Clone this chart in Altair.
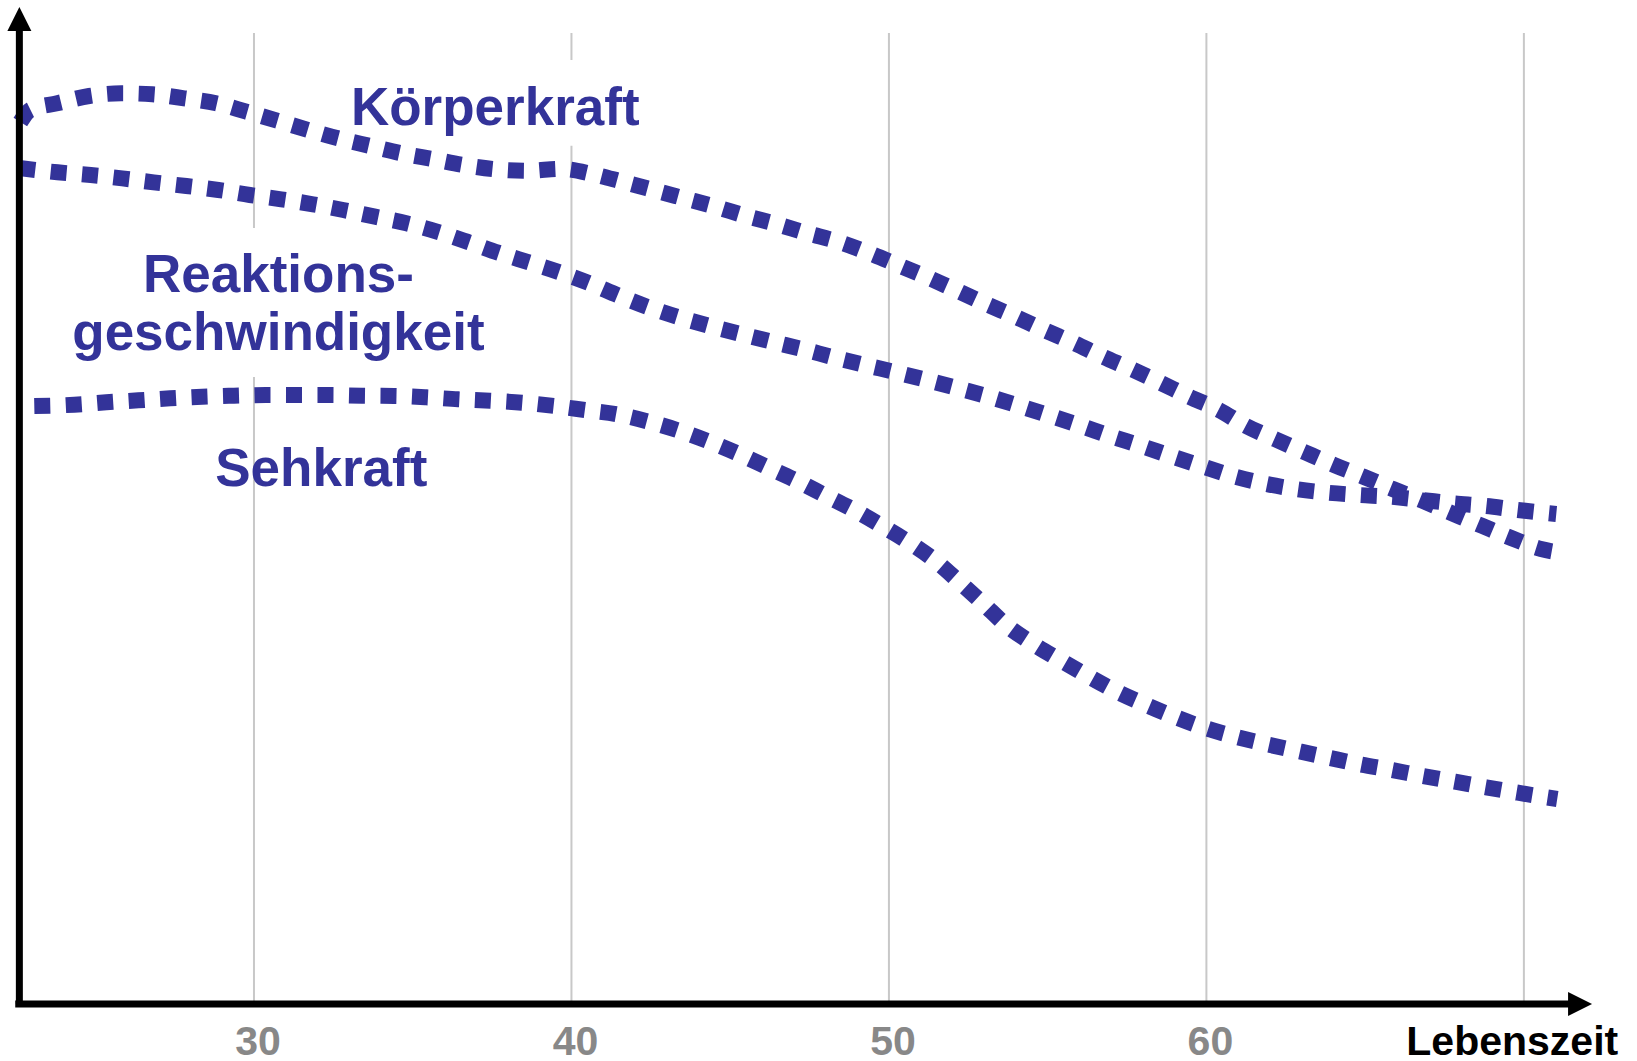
import altair as alt
import pandas as pd

# Age axis (years) and relative performance level (0 = axis, 100 = top)
koerper_age = [22.64, 22.95, 23.80, 24.81, 25.82, 26.80, 27.80, 28.81, 29.76, 30.73,
               31.71, 32.69, 33.66, 34.64, 35.65, 36.61, 37.63, 38.64, 39.65, 40.66,
               41.60, 42.58, 43.55, 44.53, 45.47, 46.48, 47.43, 48.40, 49.35, 50.29,
               51.21, 52.15, 53.06, 53.98, 54.89, 55.80, 56.72, 57.65, 58.55, 59.46,
               60.39, 61.25, 62.17, 63.10, 64.03, 64.95, 65.87, 66.80, 67.74, 68.69,
               69.62, 70.54, 71.21]
koerper_level = [88.29, 89.49, 90.16, 90.89, 91.16, 91.06, 90.66, 90.16, 89.32, 88.42,
                 87.49, 86.62, 85.89, 85.16, 84.56, 83.98, 83.55, 83.41, 83.60, 83.08,
                 82.31, 81.48, 80.65, 79.81, 78.91, 78.05, 77.15, 76.31, 75.21, 73.97,
                 72.74, 71.40, 70.07, 68.80, 67.47, 66.20, 64.83, 63.53, 62.19, 60.79,
                 59.46, 57.86, 56.53, 55.23, 53.95, 52.78, 51.55, 50.38, 49.12, 47.85,
                 46.62, 45.55, 45.15]

reaktion_age = [22.61, 23.81, 24.86, 25.85, 26.84, 27.87, 28.88, 29.87, 30.86, 31.86,
                32.81, 33.81, 34.80, 35.76, 36.71, 37.69, 38.69, 39.63, 40.57, 41.49,
                42.43, 43.39, 44.35, 45.33, 46.30, 47.29, 48.26, 49.25, 50.22, 51.19,
                52.18, 53.15, 54.12, 55.07, 56.03, 56.97, 57.95, 58.89, 59.85, 60.81,
                61.79, 62.80, 63.81, 64.81, 65.79, 66.80, 67.77, 68.80, 69.81, 71.02]
reaktion_level = [83.68, 83.25, 82.98, 82.65, 82.25, 81.88, 81.48, 80.98, 80.55, 80.05,
                  79.48, 78.81, 78.15, 77.31, 76.31, 75.21, 74.20, 73.24, 72.14, 70.90,
                  69.74, 68.74, 67.87, 67.07, 66.30, 65.54, 64.73, 63.96, 63.23, 62.46,
                  61.63, 60.79, 59.86, 58.89, 57.89, 56.86, 55.86, 54.85, 53.85, 52.88,
                  52.12, 51.55, 51.18, 50.95, 50.78, 50.45, 50.12, 49.85, 49.45, 49.05]

seh_age = [23.08, 24.34, 25.35, 26.36, 27.36, 28.37, 29.37, 30.37, 31.39, 32.37,
           33.40, 34.42, 35.43, 36.43, 37.44, 38.44, 39.45, 40.43, 41.44, 42.43,
           43.39, 44.34, 45.27, 46.18, 47.09, 47.99, 48.90, 49.77, 50.63, 51.46,
           52.21, 52.96, 53.69, 54.51, 55.39, 56.26, 57.14, 58.06, 58.99, 59.93,
           60.91, 61.90, 62.87, 63.86, 64.84, 65.84, 66.82, 67.83, 68.81, 69.81, 71.05]
seh_level = [59.86, 59.99, 60.23, 60.43, 60.63, 60.79, 60.89, 60.96, 60.96, 60.96,
             60.89, 60.86, 60.73, 60.53, 60.39, 60.19, 59.87, 59.46, 59.03, 58.29,
             57.39, 56.29, 55.06, 53.72, 52.38, 50.92, 49.45, 47.88, 46.22, 44.37,
             42.27, 40.11, 37.94, 36.11, 34.43, 32.85, 31.33, 30.00, 28.76, 27.66,
             26.76, 26.00, 25.33, 24.65, 23.99, 23.42, 22.82, 22.25, 21.69, 21.15, 20.52]

grid_ages = [30, 40, 50, 60, 70]
tick_ages = [30, 40, 50, 60]
tick_labels = ["30", "40", "50", "60"]
axis_title = "Lebenszeit"

series_labels = ["Körperkraft", "Reaktions-", "geschwindigkeit", "Sehkraft"]
label_age = [37.60, 30.77, 30.77, 32.12]
label_level = [87.99, 71.27, 65.47, 51.85]

BLUE = "#333399"
SANS = "Liberation Sans, Arial, Helvetica, sans-serif"
X_DOMAIN = [22, 73.5]
Y_DOMAIN = [0, 100]

xs = alt.Scale(domain=X_DOMAIN, nice=False, zero=False)
ys = alt.Scale(domain=Y_DOMAIN, nice=False, zero=False)

lines_df = pd.concat([
    pd.DataFrame({"age": koerper_age, "level": koerper_level, "series": "Körperkraft"}),
    pd.DataFrame({"age": reaktion_age, "level": reaktion_level, "series": "Reaktionsgeschwindigkeit"}),
    pd.DataFrame({"age": seh_age, "level": seh_level, "series": "Sehkraft"}),
], ignore_index=True)

grid_df = pd.DataFrame({"age": grid_ages, "top": 97.2, "bottom": 0})
labels_df = pd.DataFrame({"text": series_labels, "age": label_age, "level": label_level})
ticks_df = pd.DataFrame({"age": tick_ages, "text": tick_labels, "level": -5.1})
title_df = pd.DataFrame({"age": [72.97], "level": [-5.1], "text": [axis_title]})

# white backing boxes behind the two upper labels (they break the gridlines)
boxes_df = pd.DataFrame({
    "x1": [32.88, 24.06], "x2": [42.32, 37.45],
    "y1": [85.9, 62.76], "y2": [94.5, 77.68],
})

X = lambda f: alt.X(f, type="quantitative", scale=xs, axis=None)
Y = lambda f: alt.Y(f, type="quantitative", scale=ys, axis=None)

grid = alt.Chart(grid_df).mark_rule(color="#c8c8c8", strokeWidth=2).encode(
    x=X("age"), y=Y("top"), y2="bottom"
)

boxes = alt.Chart(boxes_df).mark_rect(fill="white").encode(
    x=X("x1"), x2="x2", y=Y("y1"), y2="y2"
)

curves = alt.Chart(lines_df).mark_line(
    color=BLUE, strokeWidth=16, strokeDash=[16, 15.5], strokeCap="butt",
    interpolate="monotone"
).encode(
    x=X("age"), y=Y("level"), detail="series:N", order="age:Q"
)

labels = alt.Chart(labels_df).mark_text(
    font=SANS, fontWeight="bold", fontSize=53, color=BLUE,
    align="center", baseline="alphabetic"
).encode(x=X("age"), y=Y("level"), text="text:N")

# hand-drawn style axes with arrowheads
y_axis = alt.Chart(pd.DataFrame({"age": [22.61], "lo": [0.0], "hi": [98.0]})).mark_rule(
    color="black", strokeWidth=7
).encode(x=X("age"), y=Y("lo"), y2="hi")

x_axis = alt.Chart(pd.DataFrame({"lo": [22.48], "hi": [71.5], "level": [0.0]})).mark_rule(
    color="black", strokeWidth=7
).encode(x=X("lo"), x2="hi", y=Y("level"))

up_arrow = alt.Chart(pd.DataFrame({"age": [22.61], "level": [98.6]})).mark_point(
    shape="M0,-1L1,1L-1,1Z", size=576, filled=True, color="black", opacity=1
).encode(x=X("age"), y=Y("level"))

right_arrow = alt.Chart(pd.DataFrame({"age": [71.77], "level": [0.0]})).mark_point(
    shape="M1,0L-1,-1L-1,1Z", size=576, filled=True, color="black", opacity=1
).encode(x=X("age"), y=Y("level"))

tick_text = alt.Chart(ticks_df).mark_text(
    font="Liberation Sans Narrow, " + SANS, fontWeight="bold", fontSize=41, color="#888888",
    align="center", baseline="alphabetic", dx=4
).encode(x=X("age"), y=Y("level"), text="text:N")

title_text = alt.Chart(title_df).mark_text(
    font=SANS, fontWeight="bold", fontSize=41, color="black",
    align="right", baseline="alphabetic"
).encode(x=X("age"), y=Y("level"), text="text:N")

chart = alt.layer(
    grid, boxes, curves, labels, y_axis, x_axis, up_arrow, right_arrow, tick_text, title_text
).properties(
    width=1635, height=999,
    autosize=alt.AutoSizeParams(type="none"),
    padding={"left": 0, "top": 5, "right": 2, "bottom": 57},
    background="white",
).configure_view(stroke=None)

chart.save("out.html", embed_options={"renderer": "svg", "actions": False})
